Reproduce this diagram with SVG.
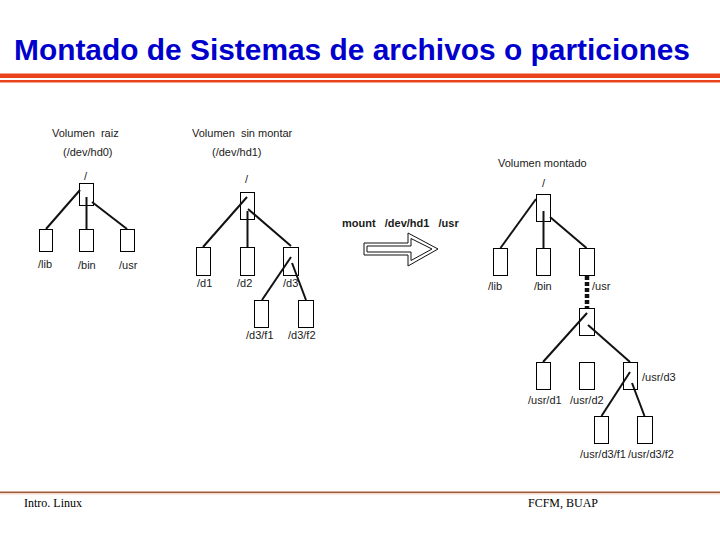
<svg xmlns="http://www.w3.org/2000/svg" width="720" height="540" viewBox="0 0 720 540">
<style>
.bx{fill:#fff;stroke:#000;stroke-width:1}
.ln{stroke:#111;stroke-width:2;fill:none}
.t{font-family:"Liberation Sans",Arial,sans-serif;font-size:11px;fill:#1a1a1a}
.tb{font-family:"Liberation Sans",Arial,sans-serif;font-size:11px;font-weight:bold;fill:#1a1a1a}
.ft{font-family:"Liberation Serif","Times New Roman",serif;font-size:12px;fill:#000}
</style>
<rect width="720" height="540" fill="#fff"/>
<text x="14" y="59.5" font-family="'Liberation Sans',Arial,sans-serif" font-size="29" font-weight="bold" fill="#0000cc" textLength="676" lengthAdjust="spacingAndGlyphs">Montado de Sistemas de archivos o particiones</text>
<rect x="0" y="73.5" width="720" height="4.5" fill="#e8431a"/>
<rect x="0" y="80" width="720" height="2.5" fill="#e8431a"/>
<rect x="0" y="491.5" width="720" height="1.5" fill="#9a5a3a"/>
<rect x="0" y="493" width="720" height="1.5" fill="#f6d9c8"/>
<text class="ft" x="24" y="507">Intro. Linux</text>
<text class="ft" x="528" y="507">FCFM, BUAP</text>

<g id="titles">
<text class="t" x="52" y="137" xml:space="preserve">Volumen  raiz</text>
<text class="t" x="63" y="156">(/dev/hd0)</text>
<text class="t" x="192" y="137" xml:space="preserve">Volumen  sin montar</text>
<text class="t" x="212" y="156">(/dev/hd1)</text>
<text class="t" x="498" y="167">Volumen montado</text>
</g>

<g id="mount">
<polygon points="364,243 408,243 408,233 438,249 408,266 408,255 364,255" fill="#fff" stroke="#111" stroke-width="1"/>
<polygon points="367,246 411,246 411,238.5 432,249 411,260.5 411,252 367,252" fill="#fff" stroke="#111" stroke-width="1"/>
<text class="tb" x="342" y="227" xml:space="preserve">mount   /dev/hd1   /usr</text>
</g>

<g id="root1"><rect class="bx" x="79.5" y="183.5" width="14" height="22"/><text class="t" x="84" y="180">/</text></g>
<g id="lib1"><rect class="bx" x="39.5" y="229.5" width="13" height="22"/><text class="t" x="38" y="268">/lib</text></g>
<g id="bin1"><rect class="bx" x="79.5" y="229.5" width="14" height="22"/><text class="t" x="78" y="269">/bin</text></g>
<g id="usr1"><rect class="bx" x="120.5" y="229.5" width="14" height="22"/><text class="t" x="119" y="269">/usr</text></g>

<g id="root2"><rect class="bx" x="240.5" y="192.5" width="14" height="27"/><text class="t" x="245" y="183">/</text></g>
<g id="d1"><rect class="bx" x="196.5" y="247.5" width="14" height="28"/><text class="t" x="197" y="287">/d1</text></g>
<g id="d2"><rect class="bx" x="240.5" y="247.5" width="14" height="28"/><text class="t" x="237" y="287">/d2</text></g>
<g id="d3"><rect class="bx" x="283.5" y="247.5" width="15" height="28"/><text class="t" x="283" y="287">/d3</text></g>
<g id="d3f1"><rect class="bx" x="254.5" y="300.5" width="14" height="27"/><text class="t" x="246" y="339">/d3/f1</text></g>
<g id="d3f2"><rect class="bx" x="298.5" y="300.5" width="15" height="27"/><text class="t" x="288" y="339">/d3/f2</text></g>

<g id="root3"><rect class="bx" x="536.5" y="194.5" width="14" height="27"/><text class="t" x="542" y="187">/</text></g>
<g id="lib3"><rect class="bx" x="493.5" y="248.5" width="14" height="27"/><text class="t" x="488" y="290">/lib</text></g>
<g id="bin3"><rect class="bx" x="536.5" y="248.5" width="14" height="27"/><text class="t" x="534" y="290">/bin</text></g>
<g id="usr3"><rect class="bx" x="579.5" y="248.5" width="15" height="27"/><text class="t" x="592" y="290">/usr</text></g>
<g id="usrroot"><rect class="bx" x="579.5" y="308.5" width="15" height="27"/></g>
<g id="usrd1"><rect class="bx" x="536.5" y="362.5" width="14" height="27"/><text class="t" x="528" y="404">/usr/d1</text></g>
<g id="usrd2"><rect class="bx" x="579.5" y="362.5" width="15" height="27"/><text class="t" x="570" y="404">/usr/d2</text></g>
<g id="usrd3"><rect class="bx" x="623.5" y="362.5" width="14" height="27"/><text class="t" x="642" y="381">/usr/d3</text></g>
<g id="usrd3f1"><rect class="bx" x="594.5" y="416.5" width="14" height="27"/><text class="t" x="580" y="458">/usr/d3/f1</text></g>
<g id="usrd3f2"><rect class="bx" x="637.5" y="416.5" width="15" height="27"/><text class="t" x="628" y="458">/usr/d3/f2</text></g>

<g id="connectors">
<line class="ln" x1="80" y1="190" x2="46" y2="229"/>
<line class="ln" x1="86.5" y1="197" x2="86.5" y2="229"/>
<line class="ln" x1="92" y1="202" x2="127" y2="229"/>
<line class="ln" x1="247" y1="197" x2="203" y2="247"/>
<line class="ln" x1="247.5" y1="211" x2="247.5" y2="247"/>
<line class="ln" x1="248" y1="209" x2="291" y2="246"/>
<line class="ln" x1="291" y1="257" x2="262" y2="300"/>
<line class="ln" x1="292" y1="263" x2="306" y2="300"/>
<line class="ln" x1="536" y1="199" x2="500.5" y2="248"/>
<line class="ln" x1="543.5" y1="211" x2="543.5" y2="248"/>
<line class="ln" x1="550" y1="217" x2="586.5" y2="248"/>
<line x1="587" y1="276" x2="587" y2="308" stroke="#111" stroke-width="4.5" stroke-dasharray="4,2"/>
<line class="ln" x1="587" y1="313" x2="543" y2="362"/>
<line class="ln" x1="588" y1="325" x2="630" y2="362"/>
<line class="ln" x1="630" y1="372" x2="601.5" y2="416"/>
<line class="ln" x1="632" y1="383" x2="644.5" y2="416"/>
</g>
</svg>
